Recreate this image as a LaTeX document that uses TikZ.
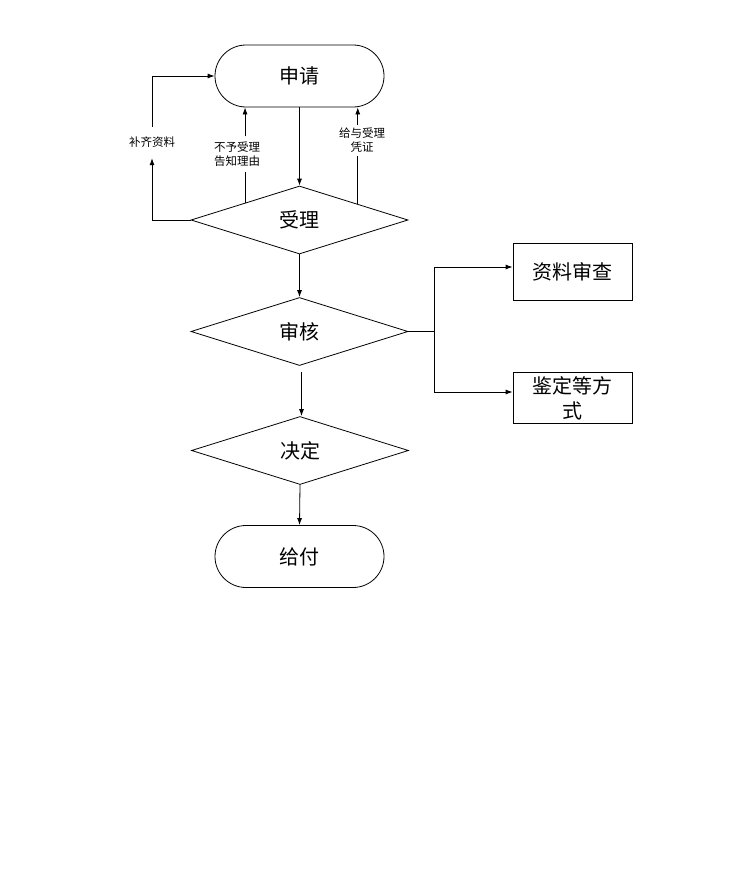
\documentclass[tikz,border=0pt]{standalone}
\usepackage{fontspec}
\newfontfamily\cjk{Noto Sans CJK SC}
\usetikzlibrary{shapes.geometric,arrows.meta,calc}
\begin{document}
\begin{tikzpicture}[x=1pt,y=-1pt,
  line/.style={draw=black,line width=0.8pt},
  arr/.style={line,-{Latex[length=7pt,width=5pt]}},
  bigtext/.style={font=\cjk\fontsize{20}{24}\selectfont},
  term/.style={draw,line width=0.8pt,rounded corners=31pt,minimum width=169pt,minimum height=62pt,bigtext},
  dec/.style={draw,diamond,line width=0.8pt,minimum width=217pt,minimum height=68pt,inner sep=0pt,bigtext},
  boxnode/.style={draw,rectangle,line width=0.8pt,minimum width=119pt,inner sep=0pt,align=center,bigtext},
  small/.style={font=\cjk\fontsize{11.5}{14}\selectfont,inner sep=0pt,align=center}
]
\useasboundingbox (0,0) rectangle (735,878);
\node[term] (ap) at (299.5,76) {申请};
\node[dec] (sl) at (299.5,220) {受理};
\node[dec] (sh) at (299.5,331.5) {审核};
\node[dec] (jd) at (300,450.5) {决定};
\node[term] (gf) at (299.5,556.5) {给付};
\node[boxnode,minimum height=57pt] (b1) at (572.5,271.5) {资料审查};
\node[boxnode,minimum height=51pt,font=\cjk\fontsize{20}{25}\selectfont] (b2) at (572.5,398) {鉴定等方\\式};
\node[small,minimum height=31pt] (l1) at (152,142.5) {补齐资料};
\node[small,minimum height=35pt] (l2) at (237,154) {不予受理\\告知理由};
\node[small,minimum height=30pt] (l3) at (362,140.5) {给与受理\\凭证};
\coordinate (br) at (434,331.5);
\coordinate (s2) at ($(sh.south)+(2,6)$);
% main flow
\draw[arr] (ap.south) -- (sl.north);
\draw[arr] (sl.south) -- (sh.north);
\draw[arr] (s2) -- (s2 |- jd.north);
\draw[arr] (jd.south) -- (gf.north);
% feedback loops
\draw[arr] (sl.west) -| (l1.south);
\draw[arr] (l1.north) |- (ap.west);
\draw[line] (sl.north west) -- (sl.north west |- l2.south);
\draw[arr] (sl.north west |- l2.north) -- (sl.north west |- ap.south);
\coordinate (rp) at ($(sl.north east)!-0.07!(sl.north)$);
\draw[line] (rp) -- (rp |- l3.south);
\draw[arr] (rp |- l3.north) -- (rp |- ap.south);
% branches
\draw[line] (sh.east) -- (br);
\draw[arr] (br) |- ($(b1.west)+(0,-4.5)$);
\draw[arr] (br) |- ($(b2.west)+(0,-6)$);
\end{tikzpicture}
\end{document}
